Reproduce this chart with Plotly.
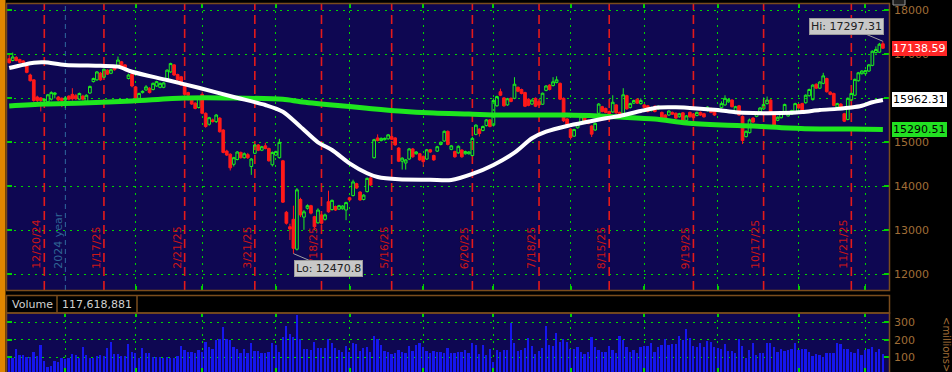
import pandas as pd
import plotly.graph_objects as go

# ---------------- data ----------------
holidays = ["2024-12-25", "2025-01-01", "2025-01-09", "2025-01-20", "2025-02-17",
            "2025-04-18", "2025-05-26", "2025-06-19", "2025-07-04", "2025-09-01",
            "2025-11-27"]
dates = pd.bdate_range("2024-12-06", "2025-12-05", freq="C", holidays=holidays)

opens = [
    16900, 16860, 16930, 16880, 16850, 16740, 16530, 16420, 16030, 16010,
    15950, 15920, 15980, 16090, 16030, 16000, 15960, 16050, 16090, 16060,
    15980, 16050, 15930, 16120, 16380, 16420, 16570, 16480, 16640, 16570,
    16720, 16750, 16830, 16760, 16450, 16550, 16260, 16000, 16130, 16190,
    16230, 16200, 16280, 16250, 16250, 16430, 16600, 16760, 16540, 16490,
    16320, 16130, 15960, 15890, 15790, 16090, 15660, 15410, 15510, 15470,
    15550, 15280, 14800, 14730, 14500, 14610, 14770, 14650, 14720, 14450,
    14750, 14940, 14820, 14920, 14860, 14490, 14710, 14650, 14580, 13410,
    13080, 13250, 12570, 13700, 13300, 13500, 13560, 13310, 13170, 13350,
    13250, 13650, 13470, 13540, 13480, 13490, 13460, 13740, 13790, 14060,
    13870, 13700, 13880, 14190, 14650, 15100, 15040, 15060, 15080, 15130,
    15100, 14870, 14570, 14530, 14620, 14850, 14740, 14740, 14680, 14620,
    14830, 14700, 14800, 14950, 15030, 15250, 14840, 14790, 14760, 14825,
    14740, 14740, 14700, 15180, 15300, 15270, 15380, 15510, 15390, 15830,
    16150, 16010, 15850, 16000, 16000, 16250, 16200, 16130, 15980, 15870,
    16000, 15930, 15865, 16180, 16300, 16290, 16360, 16340, 16000, 15530,
    15300, 15140, 15330, 15460, 15580, 15500, 15370, 15280, 15660, 15810,
    15770, 15700, 15690, 15850, 15680, 15660, 16060, 15790, 15890, 15980,
    15880, 15850, 15830, 15720, 15820, 15760, 15680, 15620, 15620, 15680,
    15660, 15580, 15670, 15500, 15680, 15640, 15610, 15680, 15650, 15720,
    15770, 15720, 15700, 15790, 15850, 15920, 15960, 15680, 15830, 15590,
    15130, 15220, 15550, 15590, 15700, 15760, 15880, 15960, 15620, 15500,
    15560, 15680, 15600, 15640, 15660, 15860, 15880, 15900, 16060, 15970,
    16320, 16230, 16340, 16450, 16140, 16110, 15800, 15870, 15650, 15520,
    15960, 16070, 16400, 16560, 16560, 16620, 16750, 17040, 17050, 17240,
]
highs = [
    16990, 17040, 16960, 16900, 16870, 16760, 16560, 16430, 16060, 16030,
    16000, 16100, 16160, 16140, 16050, 16020, 16050, 16070, 16230, 16100,
    16130, 16080, 16090, 16290, 16470, 16620, 16600, 16680, 16660, 16670,
    16740, 16950, 16850, 16780, 16560, 16570, 16280, 16130, 16180, 16300,
    16250, 16360, 16400, 16360, 16370, 16660, 16810, 16780, 16560, 16510,
    16340, 16150, 15990, 15910, 16020, 16150, 15680, 15580, 15540, 15640,
    15570, 15300, 14830, 14750, 14670, 14800, 14790, 14770, 14760, 14640,
    14960, 14960, 14920, 14990, 14880, 14790, 14810, 15080, 14600, 13440,
    13150, 13560, 13960, 13740, 13460, 13590, 13580, 13330, 13500, 13370,
    13380, 13900, 13700, 13560, 13580, 13570, 13650, 13760, 14150, 14080,
    13890, 13820, 14200, 14210, 15080, 15180, 15110, 15110, 15190, 15150,
    15120, 14890, 14660, 14620, 14870, 14870, 14800, 14760, 14700, 14850,
    14850, 14720, 14920, 15020, 15270, 15270, 14940, 14810, 14930, 14840,
    14810, 14800, 15130, 15410, 15320, 15380, 15530, 15530, 16000, 16060,
    16220, 16030, 16010, 16020, 16480, 16270, 16220, 16150, 16000, 15980,
    16020, 15950, 16130, 16300, 16320, 16480, 16500, 16360, 16020, 15550,
    15320, 15310, 15420, 15600, 15600, 15520, 15390, 15450, 15890, 15830,
    15790, 15720, 16070, 15870, 15700, 16230, 16080, 15900, 15970, 16000,
    16000, 15870, 15850, 15810, 15840, 15840, 15700, 15640, 15730, 15700,
    15680, 15670, 15690, 15620, 15700, 15660, 15700, 15700, 15670, 15820,
    15790, 15740, 15780, 15930, 16070, 15990, 15980, 15830, 15850, 15610,
    15270, 15540, 15570, 15700, 15800, 16020, 16040, 15980, 15640, 15590,
    15680, 15880, 15680, 15740, 15900, 15880, 15900, 16090, 16220, 16320,
    16340, 16390, 16580, 16470, 16160, 16130, 15900, 15890, 15670, 16020,
    16130, 16450, 16600, 16640, 16650, 16780, 17090, 17180, 17260, 17297.31,
]
lows = [
    16790, 16840, 16840, 16800, 16790, 16570, 16380, 15920, 15900, 15700,
    15900, 15900, 15950, 16000, 15940, 15800, 15780, 15950, 15950, 15960,
    15960, 15950, 15900, 16100, 16360, 16400, 16400, 16460, 16530, 16550,
    16630, 16730, 16700, 16660, 16430, 16250, 15880, 15980, 16110, 16170,
    16110, 16180, 16260, 16230, 16230, 16410, 16580, 16510, 16400, 16290,
    16060, 15950, 15850, 15750, 15770, 15640, 15330, 15380, 15450, 15440,
    15220, 14750, 14690, 14360, 14450, 14590, 14630, 14630, 14620, 14260,
    14730, 14800, 14800, 14840, 14560, 14450, 14690, 14630, 13620, 13130,
    12780, 12470.8, 12540, 13300, 13010, 13470, 13360, 13000, 13150, 13130,
    13220, 13400, 13450, 13440, 13460, 13470, 13230, 13670, 13770, 13940,
    13670, 13680, 13860, 14010, 14630, 15020, 15020, 15040, 15060, 15050,
    14920, 14550, 14380, 14380, 14600, 14650, 14720, 14580, 14440, 14600,
    14760, 14580, 14780, 14930, 15010, 14930, 14820, 14650, 14740, 14650,
    14720, 14720, 14680, 15160, 15130, 15250, 15360, 15340, 15360, 15810,
    16050, 15810, 15830, 15910, 15980, 16140, 16090, 15800, 15820, 15850,
    15800, 15830, 15850, 16160, 16180, 16270, 16340, 15960, 15460, 15380,
    15060, 15120, 15310, 15440, 15450, 15410, 15120, 15260, 15640, 15680,
    15660, 15600, 15670, 15650, 15620, 15640, 15740, 15770, 15870, 15870,
    15860, 15770, 15680, 15700, 15680, 15740, 15520, 15520, 15600, 15620,
    15530, 15560, 15420, 15480, 15560, 15540, 15590, 15600, 15560, 15700,
    15660, 15600, 15680, 15770, 15830, 15900, 15790, 15660, 15600, 14960,
    15110, 15200, 15440, 15570, 15680, 15740, 15860, 15660, 15350, 15480,
    15540, 15660, 15580, 15620, 15640, 15760, 15700, 15880, 16040, 15950,
    16210, 16210, 16320, 16130, 16070, 15820, 15780, 15780, 15460, 15500,
    15940, 16050, 16380, 16540, 16540, 16600, 16730, 17020, 17030, 17120,
]
closes = [
    16810, 16940, 16860, 16820, 16810, 16590, 16400, 15950, 15950, 15950,
    15980, 16080, 16130, 16120, 15960, 15950, 16010, 15980, 15990, 15990,
    16110, 15980, 16070, 16270, 16450, 16600, 16420, 16660, 16550, 16650,
    16650, 16870, 16720, 16680, 16530, 16280, 15960, 16110, 16160, 16260,
    16130, 16340, 16380, 16340, 16350, 16640, 16790, 16530, 16420, 16300,
    16090, 16070, 15870, 15770, 16000, 15660, 15360, 15560, 15470, 15620,
    15240, 14770, 14710, 14420, 14650, 14780, 14650, 14740, 14650, 14620,
    14940, 14820, 14900, 14860, 14580, 14770, 14790, 15000, 13640, 13160,
    13030, 12590, 13920, 13350, 13420, 13560, 13390, 13080, 13460, 13160,
    13350, 13420, 13680, 13460, 13560, 13550, 13630, 13690, 14100, 13960,
    13690, 13800, 14180, 14030, 15060, 15040, 15090, 15090, 15170, 15070,
    14940, 14570, 14640, 14600, 14850, 14670, 14780, 14600, 14560, 14830,
    14780, 14600, 14900, 15000, 15250, 14950, 14920, 14670, 14910, 14670,
    14790, 14780, 15090, 15390, 15200, 15360, 15510, 15360, 15950, 16040,
    16070, 15830, 15990, 15930, 16320, 16160, 16110, 15820, 15840, 15960,
    15820, 15850, 16115, 16280, 16200, 16375, 16420, 15980, 15490, 15400,
    15110, 15290, 15400, 15580, 15470, 15430, 15185, 15430, 15870, 15700,
    15680, 15650, 15910, 15670, 15640, 16080, 15760, 15880, 15950, 15890,
    15950, 15790, 15700, 15790, 15700, 15820, 15540, 15540, 15710, 15640,
    15550, 15650, 15440, 15600, 15580, 15560, 15680, 15620, 15580, 15800,
    15680, 15620, 15760, 15880, 16000, 15970, 15810, 15810, 15620, 15040,
    15250, 15510, 15460, 15680, 15780, 15860, 15960, 15680, 15370, 15570,
    15660, 15860, 15660, 15720, 15880, 15780, 15720, 16070, 16200, 16300,
    16230, 16370, 16510, 16150, 16090, 15840, 15880, 15800, 15480, 16000,
    16110, 16430, 16580, 16620, 16630, 16760, 17070, 17110, 17230, 17138.59,
]
volume_m = [
    104, 94, 146, 111, 111, 104, 104, 132, 107, 170,
    81, 43, 52, 81, 75, 94, 90, 94, 119, 113,
    94, 157, 113, 94, 94, 109, 113, 109, 153, 187,
    119, 119, 107, 107, 176, 132, 123, 94, 151, 123,
    123, 104, 104, 104, 94, 104, 98, 98, 107, 165,
    142, 132, 132, 123, 142, 130, 189, 161, 146, 199,
    203, 271, 203, 199, 157, 146, 126, 146, 123, 180,
    136, 136, 123, 126, 132, 180, 170, 132, 214, 279,
    233, 214, 342, 203, 146, 146, 142, 189, 151, 151,
    151, 203, 180, 151, 142, 132, 165, 132, 180, 176,
    138, 151, 157, 132, 222, 203, 170, 138, 132, 119,
    126, 142, 132, 126, 165, 138, 170, 184, 161, 138,
    123, 138, 132, 132, 123, 151, 123, 126, 132, 132,
    142, 126, 184, 170, 119, 170, 113, 146, 75, 142,
    132, 142, 142, 294, 184, 136, 142, 155, 212, 165,
    119, 136, 151, 279, 170, 165, 237, 189, 203, 189,
    146, 146, 161, 132, 119, 132, 214, 161, 142, 132,
    132, 165, 142, 126, 222, 199, 161, 132, 142, 126,
    157, 165, 165, 180, 132, 157, 170, 203, 170, 176,
    174, 222, 199, 260, 208, 165, 161, 180, 161, 193,
    189, 157, 151, 146, 176, 138, 138, 123, 203, 165,
    94, 142, 180, 113, 123, 126, 184, 180, 157, 132,
    146, 136, 142, 146, 180, 142, 146, 146, 132, 107,
    119, 113, 104, 126, 126, 126, 180, 176, 146, 146,
    132, 123, 146, 113, 142, 146, 157, 132, 146, 117.6,
]
ma50_idx = [0, 7, 10, 16, 26, 31, 35, 45, 54, 64, 73, 78, 83, 88, 92, 97, 102, 105,
            111, 120, 126, 132, 138, 144, 149, 153, 159, 165, 170, 174, 180, 185,
            190, 196, 202, 207, 212, 220, 226, 231, 236, 240, 243, 246, 249]
ma50_val = [16689, 16810, 16819, 16760, 16740, 16720, 16605, 16416, 16240, 16030,
            15848, 15696, 15355, 15000, 14825, 14522, 14296, 14211, 14159, 14150,
            14143, 14280, 14484, 14764, 15091, 15241, 15371, 15469, 15546, 15598,
            15712, 15790, 15795, 15770, 15734, 15682, 15666, 15666, 15690, 15734,
            15760, 15790, 15830, 15910, 15962.31]
ma200_idx = [0, 10, 21, 35, 50, 64, 78, 83, 92, 102, 111, 121, 131, 140, 150, 159,
             168, 174, 184, 193, 203, 212, 222, 231, 240, 249]
ma200_val = [15825, 15870, 15893, 15939, 16007, 16007, 15977, 15924, 15850, 15775,
             15712, 15666, 15643, 15620, 15620, 15620, 15598, 15575, 15530, 15439,
             15393, 15371, 15325, 15302, 15302, 15290.51]
price_ticks = [12000, 13000, 14000, 15000, 16000, 17000, 18000]
price_ticktext = ["12000", "13000", "14000", "15000", "", "17000", "18000"]
vol_ticks = [100, 200, 300]
expiry_labels = ["12/20/24", "1/17/25", "2/21/25", "3/21/25", "4/18/25", "5/16/25",
                 "6/20/25", "7/18/25", "8/15/25", "9/19/25", "10/17/25", "11/21/25"]
last_close = 17138.59
ma50_last = 15962.31
ma200_last = 15290.51
hi_value = 17297.31
lo_value = 12470.8
volume_text = "117,618,881"

# ---------------- helpers ----------------
n = len(dates)
idx = list(range(n))
s = pd.Series(idx, index=dates)
month_last = s.groupby([dates.year, dates.month]).max().tolist()
year_end = month_last[0]
month_lines = month_last[1:-1]
exp_idx = [int(dates.searchsorted(pd.to_datetime(t, format="%m/%d/%y"), side="right") - 1)
           for t in expiry_labels]
hi_i = highs.index(hi_value)
lo_i = lows.index(lo_value)

W, H = 952, 372
L, R = 7, 889
YR = [11643, 18144]


def px(x):
    return (x - L) / (R - L)


def py(y):
    return 1 - y / H


BG = "#0e0752"
GRID = "#00d400"
TAN = "#a06e37"
BROWN = "#7a4c1c"
FONT = "DejaVu Sans"
XR = [-0.63, 250.74]

fig = go.Figure()
fig.add_trace(go.Candlestick(
    x=idx, open=opens, high=highs, low=lows, close=closes,
    increasing=dict(line=dict(color="#1cf01c", width=1), fillcolor="rgba(0,0,0,0)"),
    decreasing=dict(line=dict(color="#ff1a1a", width=1), fillcolor="#ff1a1a"),
    whiskerwidth=0, hoverinfo="skip", xaxis="x", yaxis="y"))
fig.add_trace(go.Scatter(x=ma200_idx, y=ma200_val, mode="lines",
                         line=dict(color="#1ee61e", width=5, shape="spline", smoothing=0.8),
                         hoverinfo="skip", xaxis="x", yaxis="y"))
fig.add_trace(go.Scatter(x=ma50_idx, y=ma50_val, mode="lines",
                         line=dict(color="#ffffff", width=4, shape="spline", smoothing=0.8),
                         hoverinfo="skip", xaxis="x", yaxis="y"))
fig.add_trace(go.Bar(x=idx, y=volume_m, width=0.5,
                     marker=dict(color="#1616ee", line=dict(width=0)),
                     hoverinfo="skip", xaxis="x2", yaxis="y2"))

axis_common = dict(showticklabels=False, showgrid=True, gridcolor=GRID, griddash="2px,5px",
                   gridwidth=1, ticks="inside", ticklen=4, tickwidth=2, tickcolor=GRID,
                   zeroline=False, showline=False, mirror="ticks", fixedrange=True)

fig.update_layout(
    width=W, height=H, margin=dict(l=L, r=W - R, t=0, b=0, pad=0),
    paper_bgcolor="black", plot_bgcolor=BG, showlegend=False,
    boxgap=0.12, boxgroupgap=0.12, bargap=0,
    xaxis=dict(domain=[0, 1], range=XR, anchor="y", tickvals=month_lines,
               rangeslider=dict(visible=False), **axis_common),
    xaxis2=dict(domain=[0, 1], range=XR, anchor="y2", tickvals=[year_end] + month_lines,
                **axis_common),
    yaxis=dict(domain=[py(290), py(4)], range=YR, side="right", anchor="x",
               tickvals=price_ticks, ticktext=price_ticktext, ticks="inside", ticklen=5,
               tickwidth=2, tickcolor=GRID, mirror="ticks", showgrid=True, gridcolor=GRID,
               griddash="2px,5px", gridwidth=1, zeroline=False, showline=False,
               ticklabelstandoff=4, tickfont=dict(color=TAN, size=11, family=FONT)),
    yaxis2=dict(domain=[0, py(313)], range=[16, 353], side="right", anchor="x2",
                tickvals=vol_ticks, ticktext=[str(v) for v in vol_ticks], ticks="inside",
                ticklen=5, tickwidth=2, tickcolor=GRID, mirror="ticks", showgrid=True,
                gridcolor=GRID, griddash="2px,5px", gridwidth=1, zeroline=False,
                showline=False, ticklabelstandoff=4,
                tickfont=dict(color=TAN, size=11, family=FONT)),
)

shapes = []
# orange left strip
shapes.append(dict(type="rect", xref="paper", yref="paper", x0=px(0), x1=px(5.5), y0=0, y1=1,
                   fillcolor="#e08600", line=dict(width=0), layer="above"))
# option-expiry red dashed lines
for ei in exp_idx:
    shapes.append(dict(type="line", xref="x", yref="y", x0=ei, x1=ei, y0=YR[0], y1=YR[1],
                       line=dict(color="#e41a1a", width=1.6, dash="9px,5px"), layer="between"))
# year line
shapes.append(dict(type="line", xref="x", yref="y", x0=year_end, x1=year_end, y0=YR[0], y1=YR[1],
                   line=dict(color="#2f6aa0", width=1, dash="5px,4px"), layer="between"))
# borders
shapes.append(dict(type="rect", xref="paper", yref="paper", x0=px(6.5), x1=px(889.5),
                   y0=py(290.5), y1=py(3.5), line=dict(color=BROWN, width=1.5), layer="above"))
shapes.append(dict(type="rect", xref="paper", yref="paper", x0=px(6.5), x1=px(889.5),
                   y0=py(313), y1=py(295.5), fillcolor="black",
                   line=dict(color=BROWN, width=1.5), layer="above"))
for xd in (57, 137):
    shapes.append(dict(type="line", xref="paper", yref="paper", x0=px(xd), x1=px(xd),
                       y0=py(313), y1=py(295.5), line=dict(color=BROWN, width=1.5), layer="above"))
shapes.append(dict(type="rect", xref="paper", yref="paper", x0=px(6.5), x1=px(889.5),
                   y0=py(373), y1=py(313), line=dict(color=BROWN, width=1.5), layer="above"))
# small icon top right
shapes.append(dict(type="rect", xref="paper", yref="paper", x0=px(893), x1=px(905),
                   y0=py(5), y1=py(-1), line=dict(color="#9a9a9a", width=1),
                   fillcolor="#202020", layer="above"))
fig.update_layout(shapes=shapes)

ann = []
for ei, lab in zip(exp_idx, expiry_labels):
    ann.append(dict(x=ei, xref="x", y=py(271), yref="paper", text=lab, textangle=-90,
                    showarrow=False, xanchor="center", yanchor="bottom", xshift=-8,
                    font=dict(color="#cc1616", size=11, family=FONT)))
ann.append(dict(x=year_end, xref="x", y=py(271), yref="paper", text="2024 year", textangle=-90,
                showarrow=False, xanchor="center", yanchor="bottom", xshift=-7,
                font=dict(color="#2e6494", size=11, family=FONT)))
# Hi / Lo callouts
ann.append(dict(x=lo_i, xref="x", y=lo_value, yref="y", text=f"Lo: {lo_value}",
                showarrow=True, arrowhead=0, arrowcolor="#a0a0a0", arrowwidth=1,
                ax=35, ay=15, bgcolor="#c8c8c8", bordercolor="#9a9a9a", borderwidth=1,
                borderpad=1, font=dict(color="#202020", size=11, family=FONT)))
ann.append(dict(x=hi_i, xref="x", y=hi_value, yref="y", text=f"Hi: {hi_value}",
                showarrow=True, arrowhead=0, arrowcolor="#a0a0a0", arrowwidth=1,
                ax=-36, ay=-15, bgcolor="#c8c8c8", bordercolor="#9a9a9a", borderwidth=1,
                borderpad=1, font=dict(color="#202020", size=11, family=FONT)))
# right price boxes
for val, bg, fg in [(last_close, "#ff2626", "#ffffff"),
                    (ma50_last, "#ffffff", "#000000"),
                    (ma200_last, "#22e022", "#000000")]:
    ann.append(dict(x=px(892), xref="paper", y=val, yref="y", text=f"{val:.2f}",
                    showarrow=False, xanchor="left", yanchor="middle", bgcolor=bg,
                    bordercolor=bg, borderwidth=1, borderpad=0,
                    font=dict(color=fg, size=11, family=FONT)))
# volume header
ann.append(dict(x=px(32), xref="paper", y=py(304), yref="paper", text="Volume",
                showarrow=False, xanchor="center", yanchor="middle",
                font=dict(color="#d0d0d0", size=11, family=FONT)))
ann.append(dict(x=px(97), xref="paper", y=py(304), yref="paper", text=volume_text,
                showarrow=False, xanchor="center", yanchor="middle",
                font=dict(color="#d0d0d0", size=11, family=FONT)))
ann.append(dict(x=px(947), xref="paper", y=py(345), yref="paper", text="&lt;millions&gt;",
                textangle=90, showarrow=False, xanchor="center", yanchor="middle",
                font=dict(color=TAN, size=10, family=FONT)))
fig.update_layout(annotations=ann)

fig.write_html("out.html")
